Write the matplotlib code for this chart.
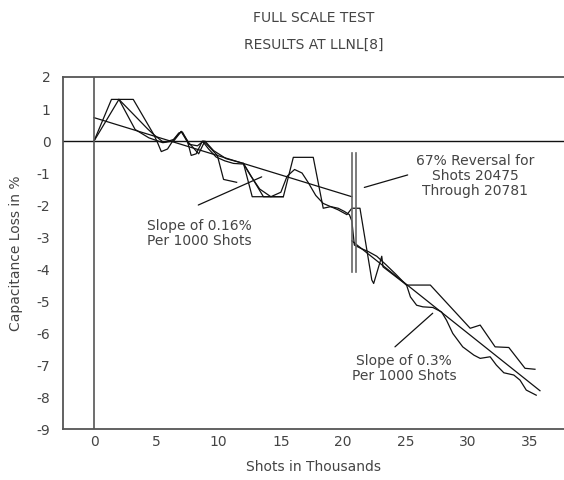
import matplotlib
matplotlib.use('Agg')
import matplotlib.pyplot as plt

plt.rcParams['axes.unicode_minus'] = False

# jagged measurement traces (shots in thousands, capacitance loss in %)
jag1_x = [0, 1.4, 3.15, 4.8, 5.6, 6.4, 7.0, 7.6, 8.3, 8.8, 9.9, 10.4, 11.45]
jag1_y = [0, 1.3, 1.3, 0.2, -0.05, 0.05, 0.3, -0.1, -0.15, 0.0, -0.45, -1.2, -1.29]

jag2_x = [0, 2.0, 3.3, 4.4, 5.5, 6.4, 7.0, 7.6, 8.4, 8.9, 9.6, 10.6, 12.0,
          12.7, 15.2, 16.0, 17.6, 18.4, 19.0, 19.6, 20.3, 20.7, 21.35,
          22.3, 22.45, 23.1, 23.2, 25.1, 27.0, 30.2, 31.0, 32.2, 33.3,
          34.6, 35.4]
jag2_y = [0, 1.3, 0.36, 0.1, -0.05, 0.0, 0.3, -0.05, -0.4, 0.0, -0.3, -0.55, -0.7,
          -1.74, -1.74, -0.51, -0.51, -2.1, -2.05, -2.15, -2.3, -2.1, -2.1,
          -4.34, -4.45, -3.6, -3.93, -4.5, -4.5, -5.85, -5.75, -6.43, -6.45,
          -7.1, -7.13]

jag3_x = [12.0, 13.6, 15.2]
jag3_y = [-0.7, -1.74, -1.74]

# smoothed trace
smooth_x = [2.0, 2.8, 3.6, 4.3, 4.8, 5.1, 5.4, 5.9, 6.4, 6.8, 7.1, 7.5, 7.8,
            8.2, 8.7, 9.2, 9.8, 10.5, 11.2, 12.0, 12.6, 13.3, 14.2, 15.0,
            15.5, 16.1, 16.7, 17.2, 17.8, 18.4, 19.0, 19.6, 20.1, 20.5, 20.7,
            20.9, 21.4, 22.0, 22.7, 23.4, 24.2, 25.1, 25.4, 25.9, 26.4,
            27.2, 27.9, 28.3, 28.8, 29.6, 30.5, 31.0, 31.8, 32.3, 32.9,
            33.7, 34.2, 34.7, 35.5]
smooth_y = [1.3, 0.98, 0.66, 0.38, 0.2, -0.05, -0.33, -0.25, 0.05, 0.25, 0.28, 0.0, -0.45,
            -0.4, 0.0, -0.25, -0.5, -0.62, -0.7, -0.72, -1.1, -1.5, -1.74, -1.6,
            -1.1, -0.89, -1.0, -1.3, -1.7, -1.95, -2.05, -2.1, -2.2, -2.3, -2.5,
            -3.25, -3.35, -3.45, -3.6, -3.85, -4.15, -4.51, -4.87, -5.13, -5.18,
            -5.2, -5.34, -5.6, -6.01, -6.43, -6.69, -6.79, -6.74, -7.0, -7.24,
            -7.31, -7.47, -7.78, -7.94]

# least squares fits before / after the reversal
fit1_x = [0, 20.7]
fit1_y = [0.73, -1.74]
fit2_x = [20.7, 35.8]
fit2_y = [-3.12, -7.8]

ink = '#111111'
grey = '#444444'

fig = plt.figure(figsize=(5.64, 4.8), dpi=100)
ax = fig.add_axes([0.1117, 0.106, 0.8883, 0.7336])

for xs, ys in [(jag1_x, jag1_y), (jag2_x, jag2_y), (jag3_x, jag3_y),
               (smooth_x, smooth_y), (fit1_x, fit1_y), (fit2_x, fit2_y)]:
    ax.plot(xs, ys, color=ink, lw=0.9)

ax.axhline(0, color=ink, lw=1.0)
ax.axvline(0, color='#555555', lw=1.2)

# double line marking the reversal
ax.plot([20.7, 20.7], [-0.38, -4.08], color='#666666', lw=1.2)
ax.plot([21.05, 21.05], [-0.38, -4.08], color='#666666', lw=1.2)

# callouts: leader line + text
pointer = dict(arrowstyle='-', color=ink, lw=0.9, shrinkA=0, shrinkB=0)
txt = dict(color=grey, fontsize=10, ha='center', va='center', linespacing=1.1)

ax.annotate('', xy=(13.46, -1.12), xytext=(8.37, -2.0), arrowprops=pointer)
ax.text(8.43, -2.9, 'Slope of 0.16%\nPer 1000 Shots', **txt)

ax.annotate('', xy=(21.7, -1.45), xytext=(25.18, -1.06), arrowprops=pointer)
ax.text(30.6, -1.1, '67% Reversal for\nShots 20475\nThrough 20781', **txt)

ax.annotate('', xy=(27.19, -5.38), xytext=(24.16, -6.43), arrowprops=pointer)
ax.text(24.9, -7.12, 'Slope of 0.3%\nPer 1000 Shots', **txt)

ax.set_xlim(-2.49, 37.73)
ax.set_ylim(-9, 2)
ax.set_xticks([0, 5, 10, 15, 20, 25, 30, 35])
ax.set_yticks(range(-9, 3))
ax.tick_params(length=0, labelsize=10, labelcolor=grey)
ax.tick_params(axis='y', pad=9)
ax.tick_params(axis='x', pad=4)
ax.spines['right'].set_visible(False)
for s in ['left', 'top', 'bottom']:
    ax.spines[s].set_color('#555555')
    ax.spines[s].set_linewidth(1.3)

ax.set_xlabel('Shots in Thousands', color=grey, fontsize=10, labelpad=8)
ax.set_ylabel('Capacitance Loss in %', color=grey, fontsize=10, labelpad=10)

fig.text(0.556, 0.962, 'FULL SCALE TEST', color=grey, fontsize=10, ha='center', va='center')
fig.text(0.556, 0.906, 'RESULTS AT LLNL[8]', color=grey, fontsize=10, ha='center', va='center')

fig.savefig('out.png', dpi=100)
